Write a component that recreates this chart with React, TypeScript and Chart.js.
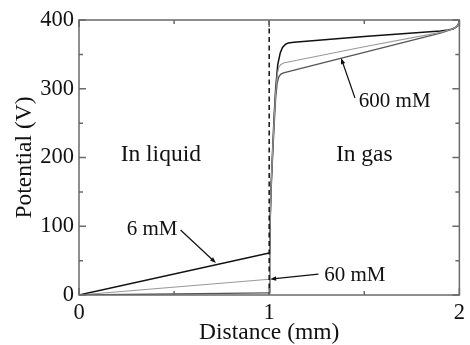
import React, { useEffect, useRef } from "react";
import { Chart, registerables } from "chart.js";

Chart.register(...registerables);

// Series: 6 mM (black)
const x6 = [0, 1, 1.004, 1.01, 1.018, 1.026, 1.034, 1.045, 1.058, 1.07, 1.085, 1.1, 1.13, 1.5, 1.9, 1.94, 1.965, 1.985, 1.995, 2];
const y6 = [0, 61, 100, 160, 210, 260, 300, 335, 352, 360, 364.5, 366.5, 367.5, 376, 384, 385.5, 387, 390, 394, 400];
// Series: 60 mM (light gray)
const x60 = [0, 1, 1.004, 1.01, 1.018, 1.026, 1.034, 1.042, 1.05, 1.06, 1.075, 1.5, 1.9, 1.94, 1.965, 1.985, 1.995, 2];
const y60 = [0, 23, 100, 160, 210, 255, 295, 320, 331, 335, 337.5, 361, 382, 385, 387, 390, 394, 400];
// Series: 600 mM (dark gray)
const x600 = [0, 1, 1.004, 1.01, 1.018, 1.026, 1.034, 1.042, 1.05, 1.06, 1.075, 1.5, 1.9, 1.94, 1.965, 1.985, 1.995, 2];
const y600 = [0, 3, 90, 150, 200, 245, 285, 308, 317, 321, 323, 353, 381, 384.5, 387, 390, 394, 400];

// Interface position (dashed line)
const interfaceX = 1;

// Text labels (data coords)
const labelTexts = ["In liquid", "In gas", "6 mM", "60 mM", "600 mM"];
const labelX = [0.43, 1.5, 0.384, 1.45, 1.66];
const labelY = [204, 204, 96, 29, 281];
const labelSizes = [23.5, 23.5, 21, 21, 21];

// Arrows (data coords)
const arrowFromX = [0.534, 1.259, 1.451];
const arrowFromY = [94.5, 30.5, 286.5];
const arrowToX = [0.72, 1.005, 1.378];
const arrowToY = [46.5, 23, 344.7];

// Ticks
const xMajor = [0, 1, 2];
const xMinor = [0.5, 1.5];
const yMajor = [0, 100, 200, 300, 400];
const yMinor = [50, 150, 250, 350];

const FONT = "'Liberation Serif', 'Times New Roman', serif";
const TEXT = "#111";

const pts = (xs: number[], ys: number[]) => xs.map((x, i) => ({ x, y: ys[i] }));

const decorPlugin = {
  id: "decor",
  afterDatasetsDraw(chart: any) {
    const { ctx, chartArea, scales } = chart;
    const xs = scales.x;
    const ys = scales.y;
    ctx.save();
    // dashed interface line
    ctx.strokeStyle = "#111";
    ctx.lineWidth = 1.5;
    ctx.setLineDash([5, 3.5]);
    const ix = xs.getPixelForValue(interfaceX);
    ctx.beginPath();
    ctx.moveTo(ix, chartArea.top);
    ctx.lineTo(ix, chartArea.bottom);
    ctx.stroke();
    ctx.setLineDash([]);

    // frame
    ctx.strokeStyle = "#6a6a6a";
    ctx.lineWidth = 1.5;
    ctx.strokeRect(chartArea.left, chartArea.top, chartArea.right - chartArea.left, chartArea.bottom - chartArea.top);

    // inward ticks
    const drawX = (v: number, len: number) => {
      const p = xs.getPixelForValue(v);
      ctx.beginPath();
      ctx.moveTo(p, chartArea.bottom);
      ctx.lineTo(p, chartArea.bottom - len);
      ctx.moveTo(p, chartArea.top);
      ctx.lineTo(p, chartArea.top + len);
      ctx.stroke();
    };
    const drawY = (v: number, len: number) => {
      const p = ys.getPixelForValue(v);
      ctx.beginPath();
      ctx.moveTo(chartArea.left, p);
      ctx.lineTo(chartArea.left + len, p);
      ctx.moveTo(chartArea.right, p);
      ctx.lineTo(chartArea.right - len, p);
      ctx.stroke();
    };
    xMajor.forEach((v) => drawX(v, 7));
    xMinor.forEach((v) => drawX(v, 4));
    yMajor.forEach((v) => drawY(v, 7));
    yMinor.forEach((v) => drawY(v, 4));

    // labels
    ctx.fillStyle = TEXT;
    ctx.textAlign = "center";
    ctx.textBaseline = "middle";
    labelTexts.forEach((t, i) => {
      ctx.font = `${labelSizes[i]}px ${FONT}`;
      ctx.fillText(t, xs.getPixelForValue(labelX[i]), ys.getPixelForValue(labelY[i]));
    });

    // arrows
    ctx.strokeStyle = "#111";
    ctx.fillStyle = "#111";
    ctx.lineWidth = 1.2;
    arrowFromX.forEach((fx, i) => {
      const x1 = xs.getPixelForValue(fx);
      const y1 = ys.getPixelForValue(arrowFromY[i]);
      const x2 = xs.getPixelForValue(arrowToX[i]);
      const y2 = ys.getPixelForValue(arrowToY[i]);
      const ang = Math.atan2(y2 - y1, x2 - x1);
      const hl = 6;
      const hw = 2.2;
      ctx.beginPath();
      ctx.moveTo(x1, y1);
      ctx.lineTo(x2 - Math.cos(ang) * hl * 0.8, y2 - Math.sin(ang) * hl * 0.8);
      ctx.stroke();
      ctx.beginPath();
      ctx.moveTo(x2, y2);
      ctx.lineTo(x2 - Math.cos(ang) * hl - Math.sin(ang) * hw, y2 - Math.sin(ang) * hl + Math.cos(ang) * hw);
      ctx.lineTo(x2 - Math.cos(ang) * hl + Math.sin(ang) * hw, y2 - Math.sin(ang) * hl - Math.cos(ang) * hw);
      ctx.closePath();
      ctx.fill();
    });
    ctx.restore();
  },
};

export default function App() {
  const ref = useRef<HTMLCanvasElement | null>(null);
  useEffect(() => {
    if (!ref.current) return;
    const chart = new Chart(ref.current, {
      type: "line",
      data: {
        datasets: [
          { label: "60 mM", data: pts(x60, y60), borderColor: "#9a9a9a", borderWidth: 1.1 },
          { label: "600 mM", data: pts(x600, y600), borderColor: "#555", borderWidth: 1.3 },
          { label: "6 mM", data: pts(x6, y6), borderColor: "#111", borderWidth: 1.5 },
        ].map((d) => ({ ...d, pointRadius: 0, fill: false, tension: 0 })),
      },
      options: {
        animation: false,
        responsive: false,
        maintainAspectRatio: false,
        layout: { padding: { left: 0, right: 6, top: 20, bottom: 0 } },
        plugins: { legend: { display: false }, tooltip: { enabled: false } },
        scales: {
          x: {
            type: "linear",
            min: 0,
            max: 2,
            border: { display: false },
            grid: { display: false, drawTicks: false },
            ticks: { stepSize: 1, padding: 5, color: TEXT, font: { family: FONT, size: 22.5 }, maxRotation: 0 },
            title: { display: true, text: "Distance (mm)", color: TEXT, font: { family: FONT, size: 23.5 }, padding: { top: 0, bottom: -2 } },
            afterFit: (s: any) => { s.height = 50; },
          },
          y: {
            min: 0,
            max: 400,
            border: { display: false },
            grid: { display: false, drawTicks: false },
            ticks: { stepSize: 100, padding: 5, color: TEXT, font: { family: FONT, size: 22.5 } },
            title: { display: true, text: "Potential (V)", color: TEXT, font: { family: FONT, size: 23.5 }, padding: { top: 11, bottom: 0 } },
            afterFit: (s: any) => { s.width = 79; },
          },
        },
      },
      plugins: [decorPlugin],
    });
    return () => chart.destroy();
  }, []);
  return (
    <div style={{ position: "fixed", left: 0, top: 0, width: 470, height: 345, background: "#fff" }}>
      <canvas ref={ref} width={470} height={345} style={{ width: 470, height: 345 }} />
    </div>
  );
}
